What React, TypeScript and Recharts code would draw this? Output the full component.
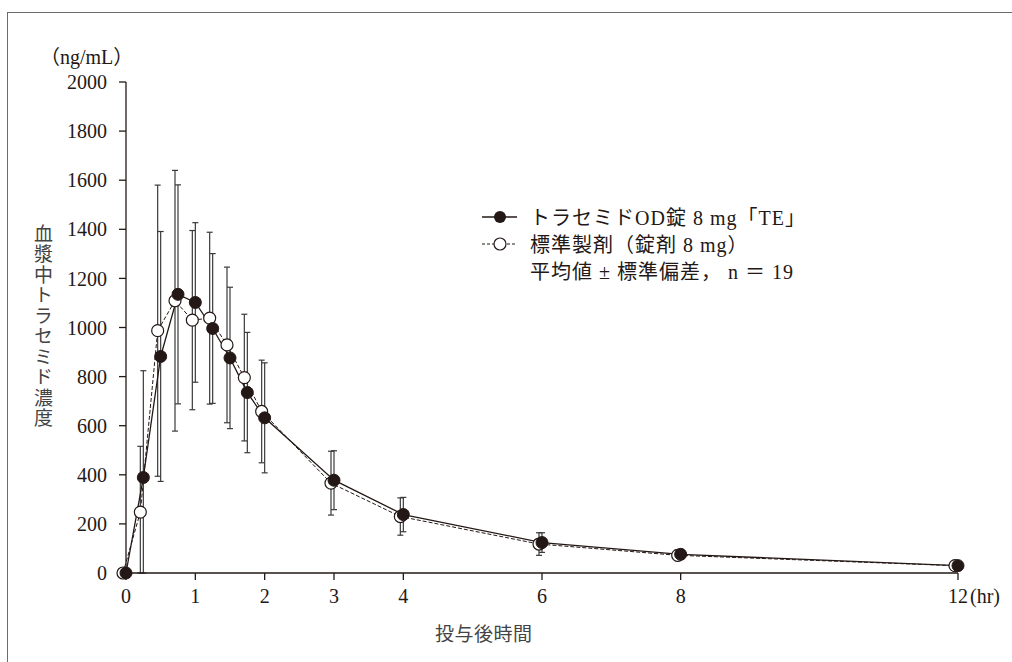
import React from 'react';
import { LineChart, Line, XAxis, YAxis, ErrorBar } from 'recharts';

// sampling times (hr)
const times = [0, 0.25, 0.5, 0.75, 1, 1.25, 1.5, 1.75, 2, 3, 4, 6, 8, 12];
// トラセミドOD錠 8 mg「TE」 mean / SD (ng/mL)
const testMean = [0, 389, 882, 1135, 1102, 996, 876, 735, 632, 378, 238, 124, 76, 30];
const testSD = [0, 435, 509, 446, 325, 305, 288, 245, 224, 120, 70, 40, 20, 6];
// 標準製剤 mean / SD
const refMean = [0, 248, 987, 1109, 1030, 1038, 929, 796, 658, 366, 230, 118, 72, 30];
const refSD = [0, 268, 593, 531, 365, 350, 317, 258, 209, 130, 76, 46, 22, 6];

const xTicks = [0, 1, 2, 3, 4, 6, 8, 12];
const yTicks = [0, 200, 400, 600, 800, 1000, 1200, 1400, 1600, 1800, 2000];

const INK = '#231815';
const SERIF = "'Liberation Serif', 'Noto Sans CJK JP', serif";
const JP = "'Liberation Serif', 'Noto Sans CJK JP', sans-serif";

// error bars never go below zero in the original figure
const data = times.map((t, i) => ({
  t,
  test: testMean[i],
  testErr: [Math.min(testMean[i], testSD[i]), testSD[i]],
  ref: refMean[i],
  refErr: [Math.min(refMean[i], refSD[i]), refSD[i]],
}));

const XTick = (props: any) => {
  const { x, y, payload } = props;
  return (
    <g>
      <text x={x} y={y} dy="0.71em" textAnchor="middle" fill={INK} fontSize={20} fontFamily={SERIF}>
        {payload.value}
      </text>
      {payload.value === 12 && (
        <text x={x + 12} y={y} dy="0.71em" textAnchor="start" fill={INK} fontSize={20} fontFamily={SERIF}>
          (hr)
        </text>
      )}
    </g>
  );
};

export default function App() {
  return (
    <div style={{ position: 'absolute', left: 0, top: 0, width: 1012, height: 662, background: '#fff' }}>
      <div
        style={{
          position: 'absolute',
          left: 7,
          top: 12,
          width: 1012,
          height: 662,
          borderTop: '1px solid #6b6b6b',
          borderLeft: '1px solid #6b6b6b',
        }}
      />
      <LineChart
        width={1012}
        height={662}
        data={data}
        margin={{ top: 82, right: 54, bottom: 59, left: 66 }}
        style={{ position: 'absolute', left: 0, top: 0 }}
      >
        <XAxis
          dataKey="t"
          type="number"
          domain={[0, 12]}
          ticks={xTicks}
          height={30}
          tickSize={7}
          tickMargin={9}
          stroke={INK}
          strokeWidth={1.3}
          tick={<XTick />}
        />
        {/* hidden copy of the time axis, shifted 3px left so the two series do not overlap */}
        <XAxis
          xAxisId="shift"
          dataKey="t"
          type="number"
          domain={[0, 12]}
          hide
          padding={{ left: -3, right: 3 }}
        />
        <YAxis
          type="number"
          domain={[0, 2000]}
          ticks={yTicks}
          width={60}
          tickSize={7}
          tickMargin={12}
          stroke={INK}
          strokeWidth={1.3}
          tick={{ fill: INK, fontSize: 20, fontFamily: SERIF }}
        />
        <Line
          xAxisId="shift"
          dataKey="ref"
          stroke={INK}
          strokeWidth={1}
          strokeDasharray="4 2"
          isAnimationActive={false}
          dot={{ r: 6, fill: '#fff', stroke: INK, strokeWidth: 1.2, strokeDasharray: '0' }}
          activeDot={false}
        >
          <ErrorBar dataKey="refErr" direction="y" width={3} stroke="#3a3a3a" strokeWidth={1.2} />
        </Line>
        <Line
          dataKey="test"
          stroke={INK}
          strokeWidth={1.3}
          isAnimationActive={false}
          dot={{ r: 6, fill: INK, stroke: INK, strokeWidth: 1 }}
          activeDot={false}
        >
          <ErrorBar dataKey="testErr" direction="y" width={3} stroke="#3a3a3a" strokeWidth={1.2} />
        </Line>
      </LineChart>

      {/* unit label */}
      <div style={{ position: 'absolute', left: 40, top: 45, fontSize: 20, fontFamily: JP, color: INK, lineHeight: '24px' }}>
        （ng/mL）
      </div>

      {/* y title */}
      <div
        style={{
          position: 'absolute',
          left: 32,
          top: 224,
          writingMode: 'vertical-rl',
          fontSize: 19,
          fontFamily: "'Noto Sans CJK JP', sans-serif",
          color: '#444',
          letterSpacing: 1.5,
          lineHeight: '22px',
        }}
      >
        血漿中トラセミド濃度
      </div>

      {/* x title */}
      <div style={{ position: 'absolute', left: 435, top: 620, fontSize: 19, fontFamily: "'Noto Sans CJK JP', sans-serif", color: '#444', lineHeight: '26px', letterSpacing: 0.5 }}>
        投与後時間
      </div>

      {/* legend */}
      <div style={{ position: 'absolute', left: 480, top: 203, fontFamily: JP, fontSize: 20, color: INK, letterSpacing: 1 }}>
        <div style={{ display: 'flex', alignItems: 'center', height: 27 }}>
          <svg width={40} height={16}>
            <line x1={2} y1={8} x2={37} y2={8} stroke={INK} strokeWidth={1.3} />
            <circle cx={20} cy={8} r={6} fill={INK} />
          </svg>
          <span style={{ marginLeft: 10 }}>トラセミドOD錠 8 mg「TE」</span>
        </div>
        <div style={{ display: 'flex', alignItems: 'center', height: 27 }}>
          <svg width={40} height={16}>
            <line x1={2} y1={8} x2={37} y2={8} stroke={INK} strokeWidth={1} strokeDasharray="3 2" />
            <circle cx={20} cy={8} r={6} fill="#fff" stroke={INK} strokeWidth={1.2} />
          </svg>
          <span style={{ marginLeft: 10 }}>標準製剤（錠剤 8 mg）</span>
        </div>
        <div style={{ display: 'flex', alignItems: 'center', height: 27 }}>
          <span style={{ marginLeft: 50, whiteSpace: 'pre' }}>平均値 ± 標準偏差， n ＝ 19</span>
        </div>
      </div>
    </div>
  );
}
